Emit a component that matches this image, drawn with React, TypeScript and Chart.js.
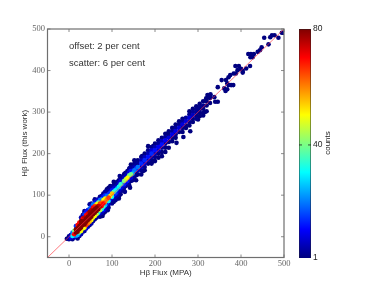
import React, { useEffect, useRef } from "react";
import { Chart, registerables } from "chart.js";

Chart.register(...registerables);

const hexX = [
  -5, 0, 0, 4, 4, 8, 8, 8, 12, 12, 12,
  16, 16, 16, 16, 20, 20, 20, 20, 20,
  24, 24, 24, 24, 24, 28, 28, 28, 28, 28, 28,
  32, 32, 32, 32, 32, 32, 36, 36, 36, 36, 36, 36, 36,
  40, 40, 40, 40, 40, 40, 44, 44, 44, 44, 44, 44,
  48, 48, 48, 48, 48, 48, 52, 52, 52, 52, 52, 52, 52,
  56, 56, 56, 56, 56, 56, 60, 60, 60, 60, 60, 60, 60,
  64, 64, 64, 64, 64, 64, 68, 68, 68, 68, 68, 68,
  72, 72, 72, 72, 72, 72, 72, 76, 76, 76, 76, 76, 76,
  80, 80, 80, 80, 80, 80, 80, 84, 84, 84, 84, 84, 84, 84,
  88, 88, 88, 88, 88, 88, 92, 92, 92, 92, 92, 92, 92,
  96, 96, 96, 96, 96, 96, 100, 100, 100, 100, 100, 100,
  104, 104, 104, 104, 104, 104, 104, 108, 108, 108, 108, 108, 108,
  112, 112, 112, 112, 112, 112, 116, 116, 116, 116, 116, 116,
  120, 120, 120, 120, 120, 120, 124, 124, 124, 124, 124,
  128, 128, 128, 128, 128, 128, 132, 132, 132, 132, 132,
  136, 136, 136, 136, 136, 140, 140, 140, 140, 140, 140,
  144, 144, 144, 144, 144, 144, 148, 148, 148, 148, 148,
  152, 152, 152, 152, 152, 152, 156, 156, 156, 156, 156,
  160, 160, 160, 160, 160, 168, 168, 168, 168, 168, 168,
  176, 176, 176, 176, 176, 176, 184, 184, 184, 184, 184, 184,
  192, 192, 192, 192, 192, 192, 200, 200, 200, 200, 200, 200,
  208, 208, 208, 208, 208, 208, 216, 216, 216, 216, 216,
  224, 224, 224, 224, 224, 224, 232, 232, 232, 232,
  240, 240, 240, 240, 240, 248, 248, 248, 248, 248,
  256, 256, 256, 256, 264, 264, 264, 264, 264,
  272, 272, 272, 272, 280, 280, 280, 280, 280,
  288, 288, 288, 288, 288, 296, 296, 296, 296, 296,
  304, 304, 304, 304, 304, 312, 312, 312, 312, 312,
  320, 320, 320, 320, 328, 328, 328,
  322, 329, 319, 338, 340, 346, 346, 355, 364, 368, 361, 368, 371, 377, 382, 365, 371, 375, 383, 388,
  387, 395, 392, 400, 404, 412, 421, 404, 417, 423, 430, 422, 427, 439, 444, 448, 464, 454, 468, 472, 478, 487, 495, 498,
  118, 130, 142, 157, 170, 196,
  78, 90, 116, 130, 142, 156, 172, 196,
  36, 48, 60, 84,
  216, 232, 250, 266, 282, 300, 316,
];

const hexY = [
  -5, -6, 1, -2, 4, 2, 10, -6, 6, 14, -2,
  10, 18, 2, 26, 12, 20, 28, 4, -4,
  18, 26, 34, 10, 2, 22, 30, 38, 14, 6, 46,
  28, 36, 44, 20, 12, 52, 30, 38, 46, 22, 14, 54, 62,
  36, 44, 52, 28, 20, 60, 40, 48, 56, 32, 24, 64,
  44, 52, 60, 36, 28, 68, 48, 56, 64, 40, 32, 72, 80,
  54, 62, 70, 46, 38, 78, 58, 66, 74, 50, 42, 82, 90,
  62, 70, 78, 54, 46, 86, 66, 74, 82, 58, 50, 90,
  72, 80, 64, 88, 56, 96, 48, 74, 82, 90, 66, 58, 98,
  80, 88, 72, 96, 64, 104, 56, 84, 92, 76, 100, 68, 108, 60,
  90, 98, 82, 106, 74, 114, 94, 86, 102, 78, 110, 118, 70,
  98, 106, 90, 114, 82, 122, 104, 112, 96, 88, 120, 80,
  108, 116, 100, 92, 124, 84, 132, 112, 104, 120, 96, 128, 88,
  116, 108, 124, 100, 132, 92, 120, 112, 128, 104, 96, 136,
  126, 118, 134, 110, 142, 102, 128, 120, 136, 112, 144,
  134, 126, 142, 118, 150, 110, 138, 130, 146, 122, 154,
  142, 134, 150, 126, 158, 148, 140, 156, 132, 164, 124,
  150, 158, 142, 134, 166, 174, 152, 160, 144, 168, 136,
  160, 168, 152, 176, 144, 184, 164, 172, 156, 180, 148,
  168, 176, 160, 184, 150, 176, 184, 168, 192, 160, 150,
  184, 192, 176, 200, 168, 160, 192, 200, 184, 208, 176, 218,
  200, 208, 192, 216, 184, 176, 208, 216, 200, 224, 192, 182,
  216, 224, 208, 232, 200, 190, 222, 230, 214, 238, 204,
  232, 240, 224, 214, 248, 204, 238, 246, 228, 254,
  246, 254, 238, 262, 230, 254, 262, 246, 270, 238,
  262, 270, 252, 278, 270, 278, 262, 284, 252,
  278, 286, 268, 262, 286, 294, 276, 302, 268,
  292, 300, 284, 276, 308, 300, 306, 292, 284, 314,
  306, 312, 298, 290, 320, 316, 326, 308, 298, 292,
  326, 332, 316, 302, 334, 340, 322,
  341, 343, 333, 336, 325, 325, 360, 377, 351, 355, 357, 369, 365, 365, 365, 377, 384, 389, 393, 393,
  411, 411, 401, 404, 399, 405, 411, 395, 440, 440, 440, 432, 432, 445, 449, 456, 463, 479, 480, 485, 485, 479, 491, 491,
  146, 152, 166, 180, 194, 218,
  50, 64, 92, 108, 118, 136, 158, 182,
  58, 78, 88, 104,
  194, 214, 226, 240, 254, 282, 300,
];

const hexCount = [
  1, 3, 2, 10, 5, 30, 20, 2, 70, 40, 5,
  80, 80, 20, 15, 80, 80, 70, 25, 1,
  80, 80, 70, 40, 3, 80, 80, 80, 50, 5, 5,
  80, 80, 70, 50, 4, 3, 80, 80, 75, 50, 3, 15, 2,
  80, 80, 70, 65, 8, 12, 80, 80, 72, 60, 4, 10,
  80, 80, 78, 55, 2, 18, 80, 80, 75, 50, 4, 14, 2,
  80, 80, 70, 50, 3, 20, 80, 80, 65, 50, 2, 12, 2,
  80, 80, 50, 45, 3, 8, 80, 75, 40, 30, 3, 6,
  75, 65, 45, 20, 6, 2, 1, 70, 60, 20, 30, 5, 4,
  70, 50, 35, 12, 10, 2, 1, 60, 50, 25, 14, 5, 3, 1,
  60, 20, 15, 4, 5, 1, 65, 30, 15, 6, 4, 1, 1,
  50, 15, 8, 3, 2, 1, 55, 12, 30, 3, 3, 2,
  35, 8, 10, 4, 2, 1, 1, 30, 15, 5, 3, 1, 2,
  25, 8, 4, 4, 2, 1, 30, 6, 6, 2, 1, 1,
  35, 10, 8, 3, 2, 1, 20, 6, 4, 2, 2,
  40, 12, 6, 3, 2, 1, 45, 8, 5, 2, 2,
  50, 12, 6, 3, 1, 40, 6, 8, 2, 2, 1,
  40, 12, 8, 2, 3, 1, 25, 6, 3, 2, 2,
  20, 5, 3, 2, 2, 1, 15, 3, 2, 2, 1,
  20, 3, 6, 1, 1, 14, 6, 6, 2, 2, 1,
  14, 6, 7, 1, 2, 1, 12, 5, 5, 2, 1, 1,
  14, 8, 4, 2, 1, 1, 12, 5, 5, 1, 2, 1,
  10, 3, 6, 1, 1, 1, 12, 6, 3, 1, 1,
  10, 3, 3, 1, 1, 1, 8, 1, 1, 1,
  9, 3, 1, 1, 1, 9, 3, 2, 1, 1,
  8, 2, 1, 1, 8, 3, 1, 1, 1,
  8, 3, 1, 1, 8, 2, 2, 1, 1,
  6, 3, 1, 1, 1, 3, 2, 1, 2, 1,
  2, 2, 1, 1, 1, 2, 1, 1, 1, 1,
  1, 1, 1, 1, 1, 1, 1,
  1, 1, 1, 1, 1, 1, 1, 1, 1, 1, 1, 1, 1, 1, 1, 1, 1, 1, 1, 1,
  1, 1, 1, 1, 1, 1, 1, 1, 1, 1, 1, 1, 1, 1, 1, 1, 1, 1, 1, 1, 1, 1, 1, 1,
  2, 1, 2, 1, 1, 1,
  1, 2, 1, 2, 1, 1, 1, 1,
  2, 3, 1, 2,
  1, 1, 1, 1, 1, 1, 1,
];

const oneToOne = [-50, 500];
const axisTicks = [0, 100, 200, 300, 400, 500];
const barTicks = [1, 40, 80];
const notes = ["offset: 2 per cent", "scatter: 6 per cent"];
const barTitle = "counts";

const SERIF = '"Liberation Serif", serif';
const SANS = '"Liberation Sans", sans-serif';

function jet(t: number): string {
  const f = (o: number) => Math.round(255 * Math.max(0, Math.min(1, 1.5 - Math.abs(4 * t - o))));
  return `rgb(${f(3)},${f(2)},${f(1)})`;
}
const countColor = (c: number) => jet((c - 1) / 79);

const frame = {
  id: "frame",
  afterDatasetsDraw(chart: any) {
    const { ctx, chartArea: a, scales } = chart;
    ctx.save();
    ctx.strokeStyle = "#6f6f6f";
    ctx.lineWidth = 1.2;
    ctx.strokeRect(a.left, a.top, a.right - a.left, a.bottom - a.top);
    ctx.lineWidth = 0.8;
    ctx.beginPath();
    for (const v of axisTicks) {
      const x = scales.x.getPixelForValue(v);
      const y = scales.y.getPixelForValue(v);
      ctx.moveTo(x, a.top); ctx.lineTo(x, a.top + 3);
      ctx.moveTo(x, a.bottom); ctx.lineTo(x, a.bottom - 3);
      ctx.moveTo(a.left, y); ctx.lineTo(a.left + 3, y);
      ctx.moveTo(a.right, y); ctx.lineTo(a.right - 3, y);
    }
    ctx.stroke();
    ctx.fillStyle = "#333";
    ctx.font = `9.5px ${SANS}`;
    ctx.textBaseline = "middle";
    ctx.fillText(notes[0], 69, 46.5);
    ctx.fillText(notes[1], 69, 63);
    ctx.restore();
  },
};

const barDecor = {
  id: "barDecor",
  afterDatasetsDraw(chart: any) {
    const { ctx, chartArea: a, scales } = chart;
    ctx.save();
    ctx.strokeStyle = "#222";
    ctx.lineWidth = 0.8;
    ctx.beginPath();
    const y40 = scales.y.getPixelForValue(barTicks[1]);
    ctx.moveTo(a.right, y40); ctx.lineTo(a.right - 3, y40);
    ctx.moveTo(a.left, y40); ctx.lineTo(a.left + 3, y40);
    ctx.stroke();
    ctx.translate(328, 143);
    ctx.rotate(-Math.PI / 2);
    ctx.fillStyle = "#222";
    ctx.font = `8px ${SANS}`;
    ctx.textAlign = "center";
    ctx.textBaseline = "middle";
    ctx.fillText(barTitle, 0, 0);
    ctx.restore();
  },
};

export default function App() {
  const main = useRef<HTMLCanvasElement>(null);
  const bar = useRef<HTMLCanvasElement>(null);

  useEffect(() => {
    const order = hexX.map((_, i) => i).sort((a, b) => hexCount[a] - hexCount[b]);
    const scaleBase = (extra: any) => ({
      type: "linear",
      min: -50,
      max: 500,
      afterBuildTicks: (s: any) => { s.ticks = axisTicks.map((value) => ({ value })); },
      grid: { display: false, drawTicks: false, tickLength: 0 },
      border: { display: false },
      ...extra,
    });
    const c1 = new Chart(main.current!, {
      type: "scatter",
      data: {
        datasets: [
          {
            data: oneToOne.map((v) => ({ x: v, y: v })),
            showLine: true,
            borderColor: "rgba(255,50,60,0.65)",
            borderWidth: 1,
            pointRadius: 0,
          },
          {
            data: order.map((i) => ({ x: hexX[i], y: hexY[i] })),
            backgroundColor: order.map((i) => countColor(hexCount[i])),
            pointRadius: 2.3,
            pointBorderWidth: 0,
            borderWidth: 0,
          },
        ],
      } as any,
      options: {
        animation: false,
        responsive: false,
        layout: { padding: { top: 29, right: 98, left: 0, bottom: 0 } },
        plugins: { legend: { display: false }, tooltip: { enabled: false } },
        scales: {
          x: scaleBase({
            afterFit: (s: any) => { s.height = 28.5; },
            ticks: { color: "#666", font: { family: SERIF, size: 8.5 }, maxRotation: 0, padding: 1 },
            title: { display: true, text: "Hβ Flux (MPA)", color: "#333", font: { family: SANS, size: 8 }, padding: { top: 0, bottom: 8 } },
          }),
          y: scaleBase({
            afterFit: (s: any) => { s.width = 47.5; },
            ticks: { color: "#666", font: { family: SERIF, size: 8.5 }, padding: 2.5 },
            title: { display: true, text: "Hβ Flux (this work)", color: "#333", font: { family: SANS, size: 8 }, padding: { top: 20, bottom: 0 } },
          }),
        } as any,
      },
      plugins: [frame],
    });

    const ctx = bar.current!.getContext("2d")!;
    const grad = ctx.createLinearGradient(0, 258, 0, 29);
    for (let i = 0; i <= 16; i++) grad.addColorStop(i / 16, jet(i / 16));
    const c2 = new Chart(bar.current!, {
      type: "bar",
      data: {
        labels: [barTitle],
        datasets: [
          { data: [[barTicks[0], barTicks[2]]], backgroundColor: grad, borderColor: "#222", borderWidth: 0.8, barPercentage: 1, categoryPercentage: 1 },
        ],
      } as any,
      options: {
        animation: false,
        responsive: false,
        layout: { padding: { top: 29, left: 299, right: 41, bottom: 28 } },
        plugins: { legend: { display: false }, tooltip: { enabled: false } },
        scales: {
          x: { display: false },
          y: {
            type: "linear",
            position: "right",
            min: 1,
            max: 80,
            afterBuildTicks: (s: any) => { s.ticks = barTicks.map((value) => ({ value })); },
            afterFit: (s: any) => { s.width = 30; },
            grid: { display: false, drawTicks: false, tickLength: 0 },
            border: { display: false },
            ticks: { color: "#222", font: { family: SANS, size: 8.5 }, padding: 2 },
          },
        } as any,
      },
      plugins: [barDecor],
    });
    return () => { c1.destroy(); c2.destroy(); };
  }, []);

  const style: React.CSSProperties = { position: "absolute", left: 0, top: 0, width: 382, height: 286 };
  return (
    <div style={{ position: "absolute", left: 0, top: 0, width: 382, height: 286, background: "#fff" }}>
      <canvas ref={main} width={382} height={286} style={style} />
      <canvas ref={bar} width={382} height={286} style={style} />
    </div>
  );
}
